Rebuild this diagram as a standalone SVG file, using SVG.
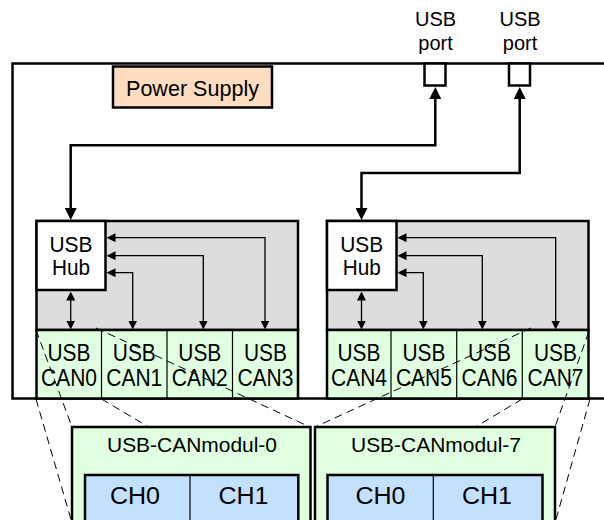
<svg xmlns="http://www.w3.org/2000/svg" width="604" height="520" viewBox="0 0 604 520">
<defs>
<style>
text{font-family:"Liberation Sans",Arial,sans-serif;fill:#000;text-anchor:middle}
.t20{font-size:20px}
.t21{font-size:21px}
.t22{font-size:22.5px}
.t23{font-size:23px}
.frame{fill:none;stroke:#000;stroke-width:2.5}
.gray{fill:#DDDDDD;stroke:#000;stroke-width:2.5}
.white{fill:#FFFFFF;stroke:#000;stroke-width:2.5}
.green{fill:#E0FFE0;stroke:#000;stroke-width:2.5}
.blue{fill:#C4E0FF;stroke:#000;stroke-width:2.5}
.peach{fill:#FDDCBF;stroke:#000;stroke-width:2.5}
.div{stroke:#000;stroke-width:1.2}
.big{fill:none;stroke:#000;stroke-width:2.5;marker-start:url(#ahBig);marker-end:url(#ahBig)}
.small{fill:none;stroke:#000;stroke-width:1.3;marker-start:url(#ahSmall);marker-end:url(#ahSmall)}
.dash{fill:none;stroke:#000;stroke-width:1;stroke-dasharray:8 5}
</style>
<marker id="ahBig" viewBox="0 0 10 10" refX="5" refY="5" markerUnits="userSpaceOnUse" markerWidth="12" markerHeight="12" orient="auto-start-reverse">
<path d="M0,0 L10,5 L0,10 z" fill="#000"/>
</marker>
<marker id="ahSmall" viewBox="0 0 10 10" refX="5" refY="5" markerUnits="userSpaceOnUse" markerWidth="9" markerHeight="9" orient="auto-start-reverse">
<path d="M0,0 L10,5 L0,10 z" fill="#000"/>
</marker>
</defs>
<rect width="604" height="520" fill="#FFFFFF"/>

<g id="enclosure">
<path class="frame" d="M604,63.5 H12.5 V398.5 H604"/>
</g>

<g id="power-supply">
<rect class="peach" x="113" y="66.5" width="159" height="41"/>
<text class="t22" x="192.5" y="95.5" textLength="133" lengthAdjust="spacingAndGlyphs">Power Supply</text>
</g>

<g id="usb-port-1">
<text class="t20" x="435.5" y="26">USB</text>
<text class="t20" x="435.5" y="50">port</text>
<rect class="white" x="424.5" y="63.5" width="21" height="22"/>
</g>

<g id="usb-port-2">
<text class="t20" x="520" y="26">USB</text>
<text class="t20" x="520" y="50">port</text>
<rect class="white" x="509" y="63.5" width="21" height="22"/>
</g>

<g id="group-0">
<rect class="gray" x="36.5" y="221" width="261.5" height="109"/>
<rect class="green" x="36.5" y="330" width="261.5" height="68.5"/>
<line class="div" x1="101.5" y1="330" x2="101.5" y2="398.5"/>
<line class="div" x1="167" y1="330" x2="167" y2="398.5"/>
<line class="div" x1="232.5" y1="330" x2="232.5" y2="398.5"/>
</g>
<g id="hub-0">
<rect class="white" x="36.5" y="221" width="69" height="69"/>
<text class="t22" x="71" y="251.5" textLength="43" lengthAdjust="spacingAndGlyphs">USB</text>
<text class="t22" x="71" y="275" textLength="38" lengthAdjust="spacingAndGlyphs">Hub</text>
</g>
<g id="can0"><text class="t23" x="69" y="360.5" textLength="43" lengthAdjust="spacingAndGlyphs">USB</text><text class="t23" x="69" y="386" textLength="56" lengthAdjust="spacingAndGlyphs">CAN0</text></g>
<g id="can1"><text class="t23" x="134.3" y="360.5" textLength="43" lengthAdjust="spacingAndGlyphs">USB</text><text class="t23" x="134.3" y="386" textLength="56" lengthAdjust="spacingAndGlyphs">CAN1</text></g>
<g id="can2"><text class="t23" x="199.8" y="360.5" textLength="43" lengthAdjust="spacingAndGlyphs">USB</text><text class="t23" x="199.8" y="386" textLength="56" lengthAdjust="spacingAndGlyphs">CAN2</text></g>
<g id="can3"><text class="t23" x="265.4" y="360.5" textLength="43" lengthAdjust="spacingAndGlyphs">USB</text><text class="t23" x="265.4" y="386" textLength="56" lengthAdjust="spacingAndGlyphs">CAN3</text></g>

<g id="group-1">
<rect class="gray" x="327" y="221" width="261.5" height="109"/>
<rect class="green" x="327" y="330" width="261.5" height="68.5"/>
<line class="div" x1="391" y1="330" x2="391" y2="398.5"/>
<line class="div" x1="456.7" y1="330" x2="456.7" y2="398.5"/>
<line class="div" x1="522.3" y1="330" x2="522.3" y2="398.5"/>
</g>
<g id="hub-1">
<rect class="white" x="327" y="221" width="69.5" height="69"/>
<text class="t22" x="361.7" y="251.5" textLength="43" lengthAdjust="spacingAndGlyphs">USB</text>
<text class="t22" x="361.7" y="275" textLength="38" lengthAdjust="spacingAndGlyphs">Hub</text>
</g>
<g id="can4"><text class="t23" x="359" y="360.5" textLength="43" lengthAdjust="spacingAndGlyphs">USB</text><text class="t23" x="359" y="386" textLength="56" lengthAdjust="spacingAndGlyphs">CAN4</text></g>
<g id="can5"><text class="t23" x="423.9" y="360.5" textLength="43" lengthAdjust="spacingAndGlyphs">USB</text><text class="t23" x="423.9" y="386" textLength="56" lengthAdjust="spacingAndGlyphs">CAN5</text></g>
<g id="can6"><text class="t23" x="489.5" y="360.5" textLength="43" lengthAdjust="spacingAndGlyphs">USB</text><text class="t23" x="489.5" y="386" textLength="56" lengthAdjust="spacingAndGlyphs">CAN6</text></g>
<g id="can7"><text class="t23" x="555.5" y="360.5" textLength="43" lengthAdjust="spacingAndGlyphs">USB</text><text class="t23" x="555.5" y="386" textLength="56" lengthAdjust="spacingAndGlyphs">CAN7</text></g>

<g id="connectors">
<path class="big" d="M435.3,93 V145.3 H70.7 V214"/>
<path class="big" d="M519.7,93 V173 H361.5 V214"/>
<path class="small" d="M70.7,296 V325"/>
<path class="small" d="M111,272.7 H132.7 V325"/>
<path class="small" d="M111,255.7 H203.3 V325"/>
<path class="small" d="M111,237.7 H265 V325"/>
<path class="small" d="M361.5,296 V325"/>
<path class="small" d="M402,272.7 H423.3 V325"/>
<path class="small" d="M402,255.7 H482.3 V325"/>
<path class="small" d="M402,237.7 H555.7 V325"/>
<line class="dash" x1="36" y1="330" x2="72" y2="427"/>
<line class="dash" x1="96" y1="328" x2="311" y2="427.5"/>
<line class="dash" x1="36" y1="399" x2="72" y2="523"/>
<line class="dash" x1="101.5" y1="399" x2="310.5" y2="523"/>
<line class="dash" x1="531" y1="328" x2="314" y2="427.5"/>
<line class="dash" x1="588.7" y1="332" x2="555" y2="427"/>
<line class="dash" x1="522.3" y1="399" x2="314" y2="523"/>
<line class="dash" x1="590" y1="399" x2="555" y2="523"/>
</g>

<g id="module-0">
<rect class="green" x="72" y="427" width="238.5" height="110"/>
<text class="t21" x="192" y="451.5" textLength="170" lengthAdjust="spacingAndGlyphs">USB-CANmodul-0</text>
<rect class="blue" x="85" y="475" width="213.3" height="70"/>
<line class="div" x1="190" y1="475" x2="190" y2="520"/>
<text class="t23" x="135" y="504" textLength="50" lengthAdjust="spacingAndGlyphs">CH0</text>
<text class="t23" x="243.5" y="504" textLength="50" lengthAdjust="spacingAndGlyphs">CH1</text>
</g>

<g id="module-7">
<rect class="green" x="315" y="427" width="240" height="110"/>
<text class="t21" x="436" y="451.5" textLength="170" lengthAdjust="spacingAndGlyphs">USB-CANmodul-7</text>
<rect class="blue" x="327.5" y="475" width="215" height="70"/>
<line class="div" x1="433.3" y1="475" x2="433.3" y2="520"/>
<text class="t23" x="380.5" y="504" textLength="50" lengthAdjust="spacingAndGlyphs">CH0</text>
<text class="t23" x="487" y="504" textLength="50" lengthAdjust="spacingAndGlyphs">CH1</text>
</g>
</svg>
